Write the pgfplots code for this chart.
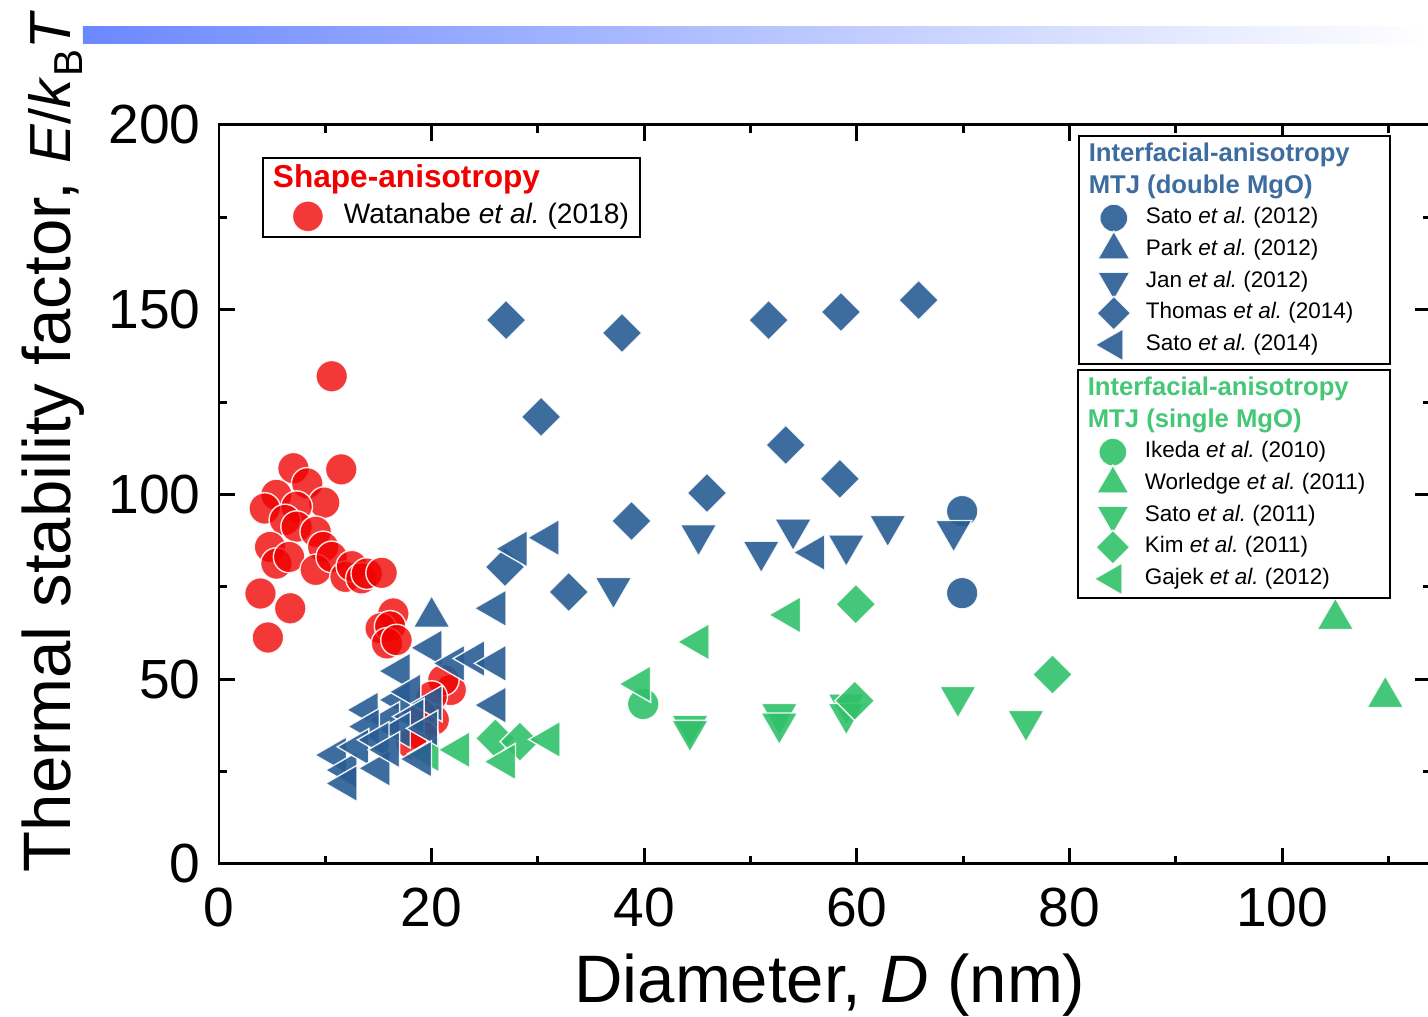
\documentclass[border=0pt]{standalone}
\usepackage{fontspec}
\setmainfont{Liberation Sans}
\usepackage{pgfplots}
\pgfplotsset{compat=1.18}

\definecolor{bluM}{RGB}{40,92,147}
\definecolor{bluT}{RGB}{61,108,158}
\definecolor{grnM}{RGB}{48,193,105}
\definecolor{grnT}{RGB}{69,199,120}
\definecolor{redM}{RGB}{240,0,0}
\definecolor{barL}{RGB}{108,136,255}

% fixed-width legend texts
\newcommand{\lent}[2]{\makebox[#1][l]{#2}}
\newcommand{\ltitle}[4]{\makebox[#1][l]{\hspace*{-#2}\fontsize{#3}{#3}\selectfont\bfseries #4}}
\newcommand{\etal}{\textit{et al.}\ }

\pgfplotsset{
  base/.style={scale only axis, width=12.12cm, height=7.39cm,
    xmin=0, xmax=114, ymin=0, ymax=200, at={(0,0)}, anchor=south west,
    only marks, clip=false},
  legbox/.style={legend cell align=left,
    legend style={draw=black, line width=0.5pt, fill=white,
      inner xsep=0pt, inner ysep=0.3mm, column sep=0pt, row sep=0pt,
      nodes={inner sep=0pt, minimum height=3.17mm},
      font=\fontsize{6.4}{7.7}\selectfont,
      anchor=north west}},
  legimg/.style={legend image code/.code={%
      \path[draw=none,fill=none] (0mm,-1mm) rectangle (6.7mm,1mm);
      \draw[only marks,overlay,##1] plot coordinates {(3.5mm,0mm)};}},
  mk/.style 2 args={mark options={rotate=#2, fill=#1, fill opacity=0.9,
      draw=white, draw opacity=0.9, line width=0.4pt}},
  lefttri/.style={mark=triangle*, mark size=6pt, legend image post style={mark size=5.3pt}},
  downtri/.style={mark=triangle*, mark size=6pt, legend image post style={mark size=5.3pt}},
  uptri/.style={mark=triangle*, mark size=6pt, legend image post style={mark size=5.3pt}},
  diam/.style={mark=square*, mark size=4pt, legend image post style={mark size=3.4pt}},
  circ/.style={mark=*, mark size=4.5pt, legend image post style={mark size=4pt}},
}

\begin{document}
\begin{tikzpicture}
\useasboundingbox (-2.19,-1.53) rectangle (12.09,8.64);
\clip (-2.19,-1.53) rectangle (12.09,8.64);
% header band
\shade[left color=barL, right color=white] (-1.36,8.20) rectangle (12.09,8.37);

% shape-anisotropy MTJs, with the frame, ticks and labels
\begin{axis}[base, legbox,
  axis line style={line width=0.85pt},
  tick align=inside,
  xtick distance=20, ytick distance=50,
  minor x tick num=1, minor y tick num=1,
  major tick length=1.6mm, minor tick length=0.8mm,
  every tick/.style={black, line width=0.85pt},
  tick label style={font=\fontsize{15.7}{18}\selectfont},
  xticklabel style={yshift=-1.2mm},
  yticklabel style={xshift=-0.6mm},
  /pgf/number format/assume math mode=true,
  xlabel={Diameter, \textit{D} (nm)},
  xlabel style={font=\fontsize{19.1}{22}\selectfont,
    at={(axis description cs:0.504,0)}, anchor=base, yshift=-13.9mm},
  ylabel={Thermal stability factor, {\fontsize{16.5}{20}\selectfont\textit{E}/\textit{k}\raisebox{-0.22em}{\fontsize{11.5}{12}\selectfont B}\textit{T}}},
  ylabel style={font=\fontsize{19.1}{22}\selectfont,
    at={(axis description cs:-0.1229,-0.028)}, anchor=base west},
  legend style={at={(axis description cs:0.0355,0.9567)},
    font=\fontsize{8}{9.6}\selectfont,
    inner ysep=0.15mm,
    nodes={minimum height=3.8mm}},
  legend image code/.code={%
      \path[draw=none,fill=none] (0mm,-1mm) rectangle (8.1mm,1mm);
      \draw[only marks,overlay,#1] plot coordinates {(4.5mm,0mm)};},
]
\addlegendimage{empty legend}
\addlegendentry{\ltitle{29.6mm}{7.1mm}{9}{\color{redM}Shape-anisotropy}}
\addplot[circ, mark options={fill=redM, fill opacity=0.78, draw=white,
  draw opacity=0.9, line width=0.4pt},
  legend image post style={mark size=4.4pt}] coordinates {
 (10.6,132.0) (7.0,107.1) (11.5,106.8) (8.3,103.0) (5.4,99.9) (9.9,97.8)
 (4.3,96.2) (7.3,96.7) (6.2,93.1) (7.3,91.3) (9.1,89.9) (4.8,85.8)
 (5.4,81.3) (6.6,83.1) (9.8,85.8) (9.1,79.6) (10.6,83.1) (11.9,77.7)
 (12.5,80.6) (13.4,77.3) (13.9,78.6) (15.3,78.8) (3.9,73.2) (6.7,69.2)
 (4.6,61.3) (16.4,67.8) (15.2,63.8) (16.1,64.3) (15.8,59.7) (16.7,60.6)
 (21.8,47.1) (21.1,49.8) (20.0,45.3) (20.2,39.0) (19.0,40.5) (19.2,34.5)
 (18.1,32.6)
};
\addlegendentry{\lent{29.6mm}{Watanabe \etal(2018)}}
\end{axis}

% single-MgO interfacial-anisotropy MTJs
\begin{axis}[base, hide axis, legbox, legimg,
  legend style={at={(axis description cs:0.7079,0.6698)}},
]
\addlegendimage{empty legend}
\addlegendentry{\ltitle{24.5mm}{5.7mm}{7.3}{\color{grnT}Interfacial-anisotropy}}
\addlegendimage{empty legend}
\addlegendentry{\ltitle{24.5mm}{5.7mm}{7.3}{\color{grnT}MTJ (single MgO)}}
\addplot[circ, mk={grnM}{0}] coordinates {(39.9,43.3)};
\addlegendentry{\lent{24.5mm}{Ikeda \etal(2010)}}
\addplot[uptri, mk={grnM}{0}] coordinates {(105.0,66.3) (109.7,45.2)};
\addlegendentry{\lent{24.5mm}{Worledge \etal(2011)}}
\addplot[downtri, mk={grnM}{180}] coordinates {
 (44.3,37.4) (44.3,36.0) (52.7,40.6) (52.7,38.0) (59.0,43.2) (59.0,40.6)
 (69.5,45.2) (75.9,38.7)};
\addlegendentry{\lent{24.5mm}{Sato \etal(2011)}}
\addplot[diam, mk={grnM}{45}] coordinates {
 (59.9,70.3) (78.4,51.3) (59.8,44.2) (26.0,34.0) (28.3,33.1)};
\addlegendentry{\lent{24.5mm}{Kim \etal(2011)}}
\addplot[lefttri, mk={grnM}{90}] coordinates {
 (53.7,67.4) (45.1,60.1) (39.6,48.7) (22.6,30.9) (26.9,27.7) (31.1,33.7)
 (19.7,29.8)};
\addlegendentry{\lent{24.5mm}{Gajek \etal(2012)}}
\end{axis}

% double-MgO interfacial-anisotropy MTJs
\begin{axis}[base, hide axis, legbox, legimg,
  legend style={at={(axis description cs:0.7087,0.9865)}},
]
\addlegendimage{empty legend}
\addlegendentry{\ltitle{24.4mm}{5.7mm}{7.3}{\color{bluT}Interfacial-anisotropy}}
\addlegendimage{empty legend}
\addlegendentry{\ltitle{24.4mm}{5.7mm}{7.3}{\color{bluT}MTJ (double MgO)}}
\addplot[circ, mk={bluM}{0}] coordinates {(69.9,95.5) (69.9,73.3)};
\addlegendentry{\lent{24.4mm}{Sato \etal(2012)}}
\addplot[uptri, mk={bluM}{0}] coordinates {(20.0,66.9)};
\addlegendentry{\lent{24.4mm}{Park \etal(2012)}}
\addplot[downtri, mk={bluM}{180}] coordinates {
 (45.1,89.0) (51.0,84.5) (54.0,90.5) (59.0,86.2) (62.9,91.5) (69.1,90.1)
 (37.1,74.7)};
\addlegendentry{\lent{24.4mm}{Jan \etal(2012)}}
\addplot[diam, mk={bluM}{45}] coordinates {
 (27.0,147.2) (37.9,143.7) (51.7,147.2) (58.5,149.4) (65.8,152.6)
 (30.3,121.0) (53.3,113.4) (58.4,104.2) (45.9,100.4) (38.8,92.8)
 (32.9,73.6) (26.9,80.4)};
\addlegendentry{\lent{24.4mm}{Thomas \etal(2014)}}
\addplot[lefttri, mk={bluM}{90}] coordinates {
 (56.0,84.3) (31.0,88.3) (28.0,85.3) (26.0,69.2) (20.0,58.5) (22.1,54.3)
 (24.0,55.6) (26.0,54.3) (17.0,52.2) (26.0,43.0) (14.0,41.7) (17.0,44.4)
 (18.0,46.6) (20.0,43.4) (16.0,39.0) (18.3,39.9) (14.1,37.2) (17.0,36.3)
 (19.6,36.7) (11.0,29.5) (12.0,25.4) (12.0,21.8) (13.1,31.7) (15.0,33.6)
 (15.1,25.9) (16.0,30.9) (19.0,28.4)};
\addlegendentry{\lent{24.4mm}{Sato \etal(2014)}}
\end{axis}
\end{tikzpicture}
\end{document}
